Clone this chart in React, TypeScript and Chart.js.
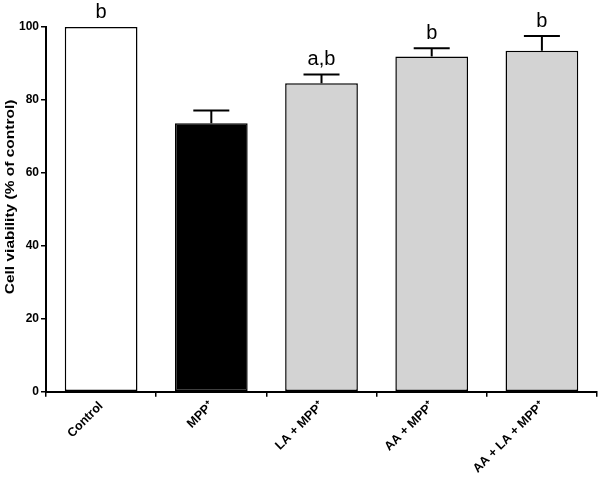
import React, { useEffect, useRef } from "react";
import { Chart, registerables } from "chart.js";

Chart.register(...registerables);

const categories = ["Control", "MPP\u207A", "LA + MPP\u207A", "AA + MPP\u207A", "AA + LA + MPP\u207A"];
const values = [100, 73.6, 84.6, 91.9, 93.5];
const errors = [0, 3.5, 2.4, 2.3, 4.0];
const letters = ["b", "", "a,b", "b", "b"];
const barColors = ["#ffffff", "#000000", "#d3d3d3", "#d3d3d3", "#d3d3d3"];
const yTicks = [0, 20, 40, 60, 80, 100];
const yTitle = "Cell viability (% of control)";

const annotPlugin = {
  id: "annot",
  afterDatasetsDraw(chart: any) {
    const ctx = chart.ctx;
    const meta = chart.getDatasetMeta(0);
    const y = chart.scales.y;
    ctx.save();
    ctx.strokeStyle = "#000";
    ctx.lineWidth = 2;
    meta.data.forEach((bar: any, i: number) => {
      const x = bar.x;
      const top = values[i] + errors[i];
      if (errors[i] > 0) {
        const y0 = y.getPixelForValue(values[i]);
        const y1 = y.getPixelForValue(top);
        ctx.beginPath();
        ctx.moveTo(x, y0);
        ctx.lineTo(x, y1);
        ctx.moveTo(x - 18, y1);
        ctx.lineTo(x + 18, y1);
        ctx.stroke();
      }
      if (letters[i]) {
        ctx.fillStyle = "#000";
        ctx.font = "20px Arial, 'Liberation Sans', sans-serif";
        ctx.textAlign = "center";
        ctx.textBaseline = "alphabetic";
        ctx.fillText(letters[i], x, y.getPixelForValue(top) - 9);
      }
    });
    // y-axis title
    const area = chart.chartArea;
    ctx.translate(10, area.top + (area.bottom - area.top) * 0.466);
    ctx.rotate(-Math.PI / 2);
    ctx.scale(1, 0.85);
    ctx.fillStyle = "#000";
    ctx.font = "bold 15.5px Arial, 'Liberation Sans', sans-serif";
    ctx.textAlign = "center";
    ctx.textBaseline = "middle";
    ctx.fillText(yTitle, 0, 0);
    ctx.restore();
  },
};

export default function App() {
  const ref = useRef<HTMLCanvasElement>(null);
  useEffect(() => {
    document.body.style.margin = "0";
    const chart = new Chart(ref.current!, {
      type: "bar",
      data: {
        labels: categories,
        datasets: [
          {
            data: values,
            backgroundColor: barColors,
            borderColor: "#000",
            borderWidth: 1.5,
            borderSkipped: false,
            barPercentage: 0.66,
            categoryPercentage: 1,
          },
        ],
      },
      options: {
        animation: false,
        responsive: false,
        layout: { padding: { top: 27, right: 3, left: 17, bottom: 0 } },
        plugins: { legend: { display: false }, tooltip: { enabled: false } },
        scales: {
          x: {
            grid: { drawOnChartArea: false, drawTicks: true, tickLength: 5, color: "#000", lineWidth: 1.5 },
            border: { color: "#000", width: 2 },
            ticks: {
              color: "#000",
              maxRotation: 45,
              minRotation: 45,
              padding: 2,
              font: { family: "Arial, 'Liberation Sans', sans-serif", size: 12.5, weight: "bold" },
            },
          },
          y: {
            min: 0,
            max: 100,
            afterBuildTicks: (axis: any) => {
              axis.ticks = yTicks.map((v) => ({ value: v }));
            },
            grid: { drawOnChartArea: false, drawTicks: true, tickLength: 5, color: "#000", lineWidth: 1.5 },
            border: { color: "#000", width: 2 },
            ticks: {
              color: "#000",
              padding: 2,
              font: { family: "Arial, 'Liberation Sans', sans-serif", size: 12, weight: "bold" },
            },
          },
        },
      },
      plugins: [annotPlugin],
    });
    return () => chart.destroy();
  }, []);
  return <canvas ref={ref} width={600} height={478} style={{ display: "block" }} />;
}
